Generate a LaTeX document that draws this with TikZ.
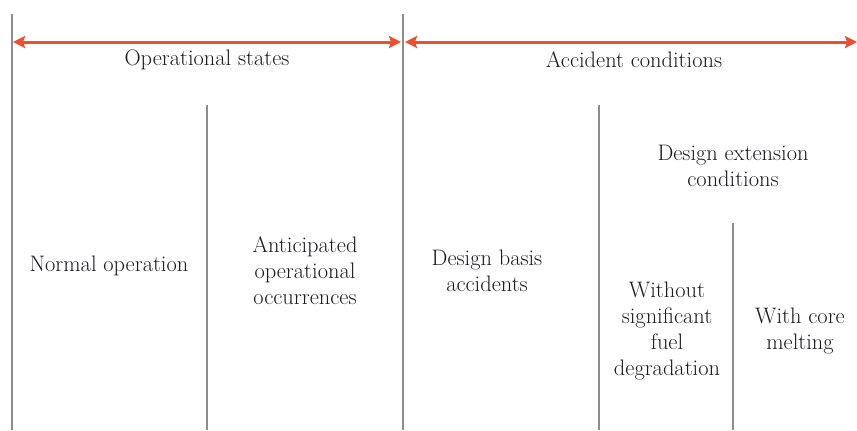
\documentclass[tikz,border=0pt]{standalone}
\usetikzlibrary{arrows.meta}
\definecolor{arrowred}{RGB}{238,78,48}
\definecolor{textgray}{RGB}{25,25,30}
\tikzset{
  divider/.style={draw=gray!90, line width=1.6bp},
  span/.style={{Stealth[length=12bp,width=12bp,inset=2bp]}-{Stealth[length=12bp,width=12bp,inset=2bp]}, draw=arrowred, line width=3bp},
  caption/.style={align=center, text=textgray, font=\fontsize{22.5}{26}\selectfont, inner sep=0pt}
}
\begin{document}
\begin{tikzpicture}[x=1bp, y=-1bp]
        \useasboundingbox (0,0) rectangle (857,430);

        % dividing lines
        \coordinate (l1t) at (12,14);   \coordinate (l1b) at (12,430);
        \coordinate (l2t) at (403,14);  \coordinate (l2b) at (403,430);
        \coordinate (l3t) at (207,105); \coordinate (l3b) at (207,430);
        \coordinate (l4t) at (599,105); \coordinate (l4b) at (599,430);
        \coordinate (l5t) at (733,223); \coordinate (l5b) at (733,430);

        \draw[divider] (l1t) -- (l1b);
        \draw[divider] (l2t) -- (l2b);
        \draw[divider] (l3t) -- (l3b);
        \draw[divider] (l4t) -- (l4b);
        \draw[divider] (l5t) -- (l5b);

        % span arrows
        \coordinate (opl) at (13,42);  \coordinate (opr) at (401,42);
        \coordinate (acl) at (405,42); \coordinate (acr) at (857,42);
        \draw[span] (opl) -- (opr);
        \draw[span] (acl) -- (acr);

        \node[caption] (ops) at (207,60) {Operational states};
        \node[caption] (acc) at (634,60) {Accident conditions};

        \node[caption] (norm) at (109,266) {Normal operation};
        \node[caption] (aoo) at (305,271) {Anticipated\\operational\\occurrences};
        \node[caption] (dba) at (487,271) {Design basis\\accidents};
        \node[caption] (dec) at (733,166) {Design extension\\conditions};
        \node[caption] (nofuel) at (667,331) {Without\\significant\\fuel\\degradation};
        \node[caption] (melt) at (800,331) {With core\\melting};

      \end{tikzpicture}
\end{document}
